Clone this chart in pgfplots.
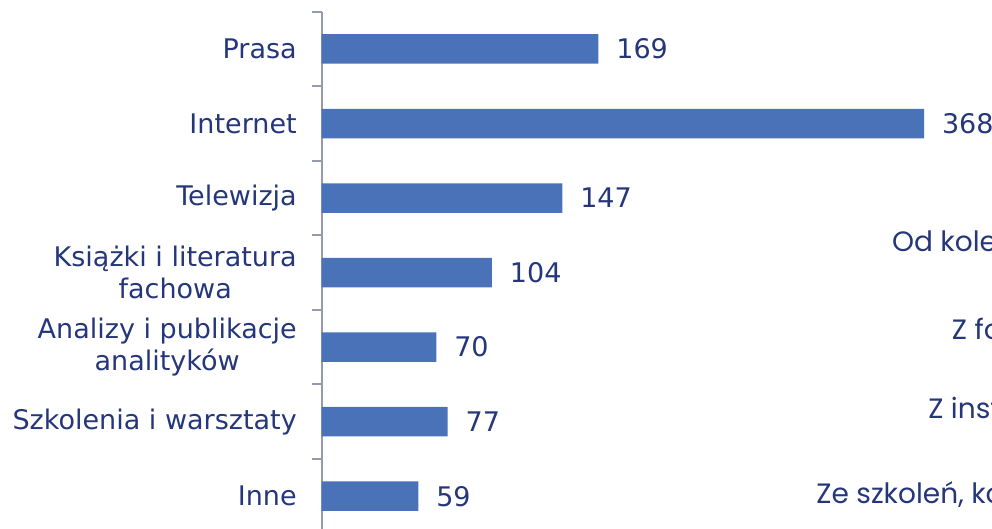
\documentclass[border=0pt]{standalone}
\usepackage{pgfplots}
\pgfplotsset{compat=1.18}
\usepackage{fontspec}
\setmainfont{DejaVu Sans}
\newfontfamily\rightfont{Poppins}
\definecolor{barblue}{RGB}{74,114,185}
\definecolor{navy}{RGB}{37,55,122}
\definecolor{axisgray}{RGB}{150,154,176}

\begin{document}
\begin{tikzpicture}
% the reference is cropped on the right and at the bottom
\path[use as bounding box, clip] (0,0) rectangle (496pt,264.5pt);
\begin{axis}[
  at={(160.85pt,-2.25pt)}, anchor=south west,
  scale only axis, width=335.15pt, height=260.9pt,
  xbar, bar width=14.75pt,
  xmin=0, xmax=409.5,
  ymin=-0.5, ymax=6.5, y dir=reverse,
  axis x line=none, axis y line*=left,
  axis line style={axisgray, line width=1pt},
  ytick={0,...,6},
  yticklabels={Prasa, Internet, Telewizja, {Książki i literatura\\fachowa}, {Analizy i publikacje\\analityków}, Szkolenia i warsztaty, Inne},
  minor ytick={-0.5,0.5,...,6.5},
  major tick length=0pt, minor tick length=4.8pt,
  tick align=outside,
  minor tick style={axisgray, line width=1pt},
  yticklabel style={font=\fontsize{13.5}{16}\selectfont, text=navy, align=center, anchor=east, inner sep=0pt, xshift=-12.3pt},
  /pgf/number format/assume math mode=true,
  nodes near coords,
  nodes near coords style={font=\fontsize{13.5}{16}\selectfont, text=navy, anchor=west, inner sep=0pt, xshift=8.8pt},
  clip=false,
]
\addplot[fill=barblue, draw=none] coordinates {(169,0) (368,1) (147,2) (104,3) (70,4) (77,5) (59,6)};
% labels of the neighbouring chart, cut by the crop
\node[anchor=west, inner sep=0pt, text=navy, font=\rightfont\fontsize{14}{16}\selectfont] at (axis cs:348.2,2.625) {Od kolegów};
\node[anchor=west, inner sep=0pt, text=navy, font=\rightfont\fontsize{14}{16}\selectfont] at (axis cs:384.8,3.748) {Z forów};
\node[anchor=west, inner sep=0pt, text=navy, font=\rightfont\fontsize{14}{16}\selectfont] at (axis cs:370.4,4.865) {Z instytucji};
\node[anchor=west, inner sep=0pt, text=navy, font=\rightfont\fontsize{14}{16}\selectfont] at (axis cs:302,6.0) {Ze szkoleń, konferencji};
\end{axis}
\end{tikzpicture}
\end{document}
